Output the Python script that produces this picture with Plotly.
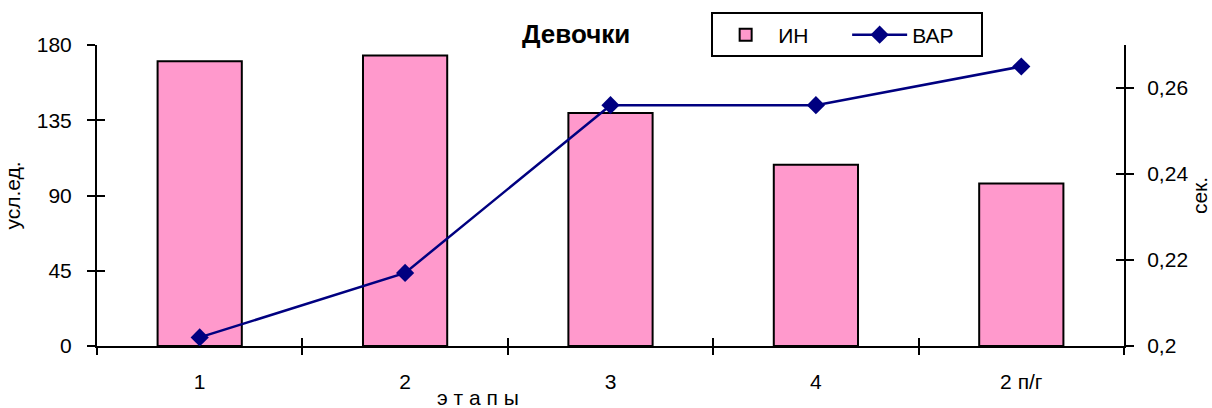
import plotly.graph_objects as go

# Stages and measured series
stages = ["1", "2", "3", "4", "2 п/г"]
in_values = [170.3, 173.7, 139.3, 108.4, 97.2]      # ИН, усл.ед. (left axis)
var_values = [0.202, 0.217, 0.256, 0.256, 0.265]    # ВАР, сек. (right axis)
left_ticks = [0, 45, 90, 135, 180]
right_ticks = [0.2, 0.22, 0.24, 0.26]

pos = list(range(len(stages)))
boundaries = [i - 0.5 for i in range(len(stages) + 1)]
x_range = [-0.5, len(stages) - 0.5]
left_range = [0, 180]
right_range = [0.2, 0.27]

FONT = "Arial, Liberation Sans, sans-serif"

fig = go.Figure()
fig.add_bar(
    x=pos, y=in_values, name="ИН", width=0.41, yaxis="y",
    marker=dict(color="#FF99CC", line=dict(color="black", width=2)),
)
fig.add_scatter(
    x=pos, y=var_values, name="ВАР", mode="lines+markers", yaxis="y2",
    line=dict(color="#000080", width=2.5),
    marker=dict(symbol="diamond", size=14, color="#000080"),
)
# empty traces so the tick-only overlay axes get drawn (ticks crossing the axis lines)
fig.add_scatter(x=[None], y=[None], xaxis="x2", yaxis="y3", showlegend=False,
                hoverinfo="skip")
fig.add_scatter(x=[None], y=[None], xaxis="x3", yaxis="y4", showlegend=False,
                hoverinfo="skip")

axis_common = dict(showgrid=False, zeroline=False, automargin=False)
tick_common = dict(tickcolor="black", tickwidth=2, ticklen=8, showticklabels=False,
                   showline=False, **axis_common)

fig.update_layout(
    width=1212, height=408,
    margin=dict(l=97, r=88, t=43, b=62),
    paper_bgcolor="white", plot_bgcolor="white",
    separators=", ",
    font=dict(family=FONT, size=21, color="black"),
    bargap=0.59,
    showlegend=True,
    legend=dict(
        orientation="h", x=0.598, y=1.108, xanchor="left", yanchor="top",
        bordercolor="black", borderwidth=2, bgcolor="white",
        font=dict(size=21), itemwidth=55, entrywidth=64,
    ),
    xaxis=dict(
        range=x_range, tickvals=pos, ticktext=stages, ticks="",
        ticklabelstandoff=16, showline=True, linecolor="black", linewidth=2,
        anchor="y", **axis_common,
    ),
    xaxis2=dict(overlaying="x", anchor="y", range=x_range, tickvals=boundaries,
                ticks="outside", **tick_common),
    xaxis3=dict(overlaying="x", anchor="y", range=x_range, tickvals=boundaries,
                ticks="inside", **tick_common),
    yaxis=dict(
        range=left_range, tickvals=left_ticks, ticks="outside", ticklen=8,
        tickwidth=2, tickcolor="black", ticklabelstandoff=11,
        showline=True, linecolor="black", linewidth=2,
        title=dict(text="усл.ед.", standoff=10, font=dict(size=21)),
        **axis_common,
    ),
    yaxis3=dict(overlaying="y", anchor="x", range=left_range, tickvals=left_ticks,
                ticks="inside", **tick_common),
    yaxis2=dict(
        overlaying="y", side="right", anchor="x", range=right_range,
        tickvals=right_ticks, ticks="outside", ticklen=8, tickwidth=2,
        tickcolor="black", ticklabelstandoff=9,
        showline=True, linecolor="black", linewidth=2,
        title=dict(text="сек.", standoff=2, font=dict(size=21)),
        **axis_common,
    ),
    yaxis4=dict(overlaying="y", side="right", anchor="x", range=right_range,
                tickvals=right_ticks, ticks="inside", **tick_common),
    annotations=[
        dict(text="<b>Девочки</b>", xref="paper", yref="paper", x=0.466, y=1.035,
             xanchor="center", yanchor="middle", showarrow=False,
             font=dict(size=26)),
        dict(text="э т а п ы", xref="paper", yref="paper", x=0.371, y=-0.171,
             xanchor="center", yanchor="middle", showarrow=False,
             font=dict(size=21)),
    ],
)

fig.write_html("out.html")
